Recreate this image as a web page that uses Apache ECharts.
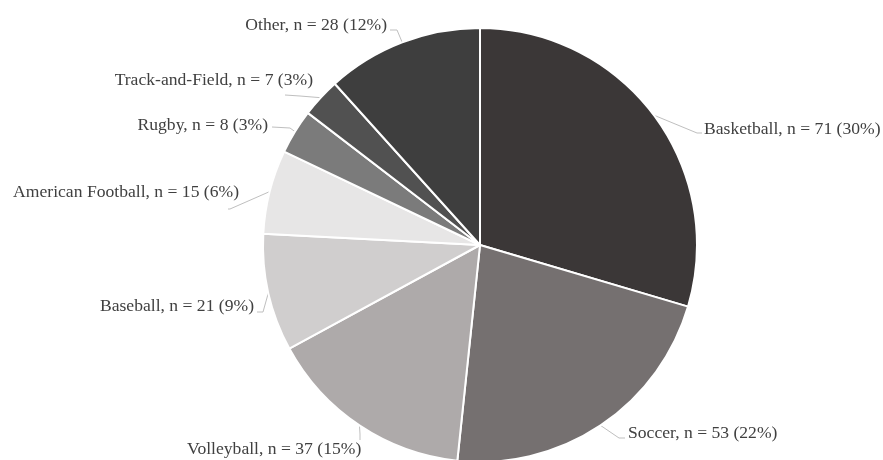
<!DOCTYPE html>
<html>
<head>
<meta charset="utf-8">
<script src="https://cdn.jsdelivr.net/npm/echarts@6/dist/echarts.min.js"></script>
<style>
  html, body { margin: 0; padding: 0; background: #ffffff; }
  #chart { width: 883px; height: 460px; }
</style>
</head>
<body>
<div id="chart"></div>
<script>
// Sport participation counts
const categories = ['Basketball', 'Soccer', 'Volleyball', 'Baseball', 'American Football', 'Rugby', 'Track-and-Field', 'Other'];
const counts = [71, 53, 37, 21, 15, 8, 7, 28];
const percentLabels = ['30%', '22%', '15%', '9%', '6%', '3%', '3%', '12%'];
const sliceColors = ['#3b3737', '#757070', '#aeaaaa', '#d0cece', '#e7e6e6', '#7b7b7b', '#515151', '#3e3e3e'];

// Where each label sits and how its leader line bends (x, y, align, bend point, line end)
const labelPlacement = [
  { x: 704, y: 129, align: 'left',  bend: [697, 133], end: [702, 133] },
  { x: 628, y: 433, align: 'left',  bend: [619, 438], end: [625, 438] },
  { x: 187, y: 449, align: 'left',  bend: [360, 434], end: [360, 440] },
  { x: 254, y: 306, align: 'right', bend: [263, 312], end: [257, 312] },
  { x: 239, y: 192, align: 'right', bend: [230, 209], end: [228, 209] },
  { x: 268, y: 125, align: 'right', bend: [290, 128], end: [272, 127] },
  { x: 313, y: 80,  align: 'right', bend: [300, 96],  end: [285, 95] },
  { x: 387, y: 25,  align: 'right', bend: [397, 30],  end: [390, 30] }
];

const pieData = categories.map((name, i) => ({
  name: name,
  value: counts[i],
  itemStyle: { color: sliceColors[i] }
}));

const chart = echarts.init(document.getElementById('chart'), null, { renderer: 'canvas' });

chart.setOption({
  animation: false,
  backgroundColor: '#ffffff',
  series: [{
    type: 'pie',
    center: [480, 245],
    radius: [0, 217],
    startAngle: 90,
    clockwise: true,
    silent: true,
    avoidLabelOverlap: false,
    data: pieData,
    itemStyle: { borderColor: '#ffffff', borderWidth: 2 },
    label: {
      show: true,
      position: 'outside',
      fontFamily: 'Liberation Serif',
      fontSize: 17.6,
      color: '#404040',
      formatter: p => p.name + ', n = ' + p.value + ' (' + percentLabels[p.dataIndex] + ')'
    },
    labelLine: {
      show: true,
      length: 10,
      length2: 10,
      lineStyle: { color: '#bfbfbf', width: 1 }
    },
    labelLayout: function (params) {
      const p = labelPlacement[params.dataIndex];
      const start = params.labelLinePoints ? params.labelLinePoints[0] : p.bend;
      return {
        x: p.x,
        y: p.y,
        align: p.align,
        verticalAlign: 'middle',
        labelLinePoints: [start, p.bend, p.end]
      };
    }
  }]
});
</script>
</body>
</html>
